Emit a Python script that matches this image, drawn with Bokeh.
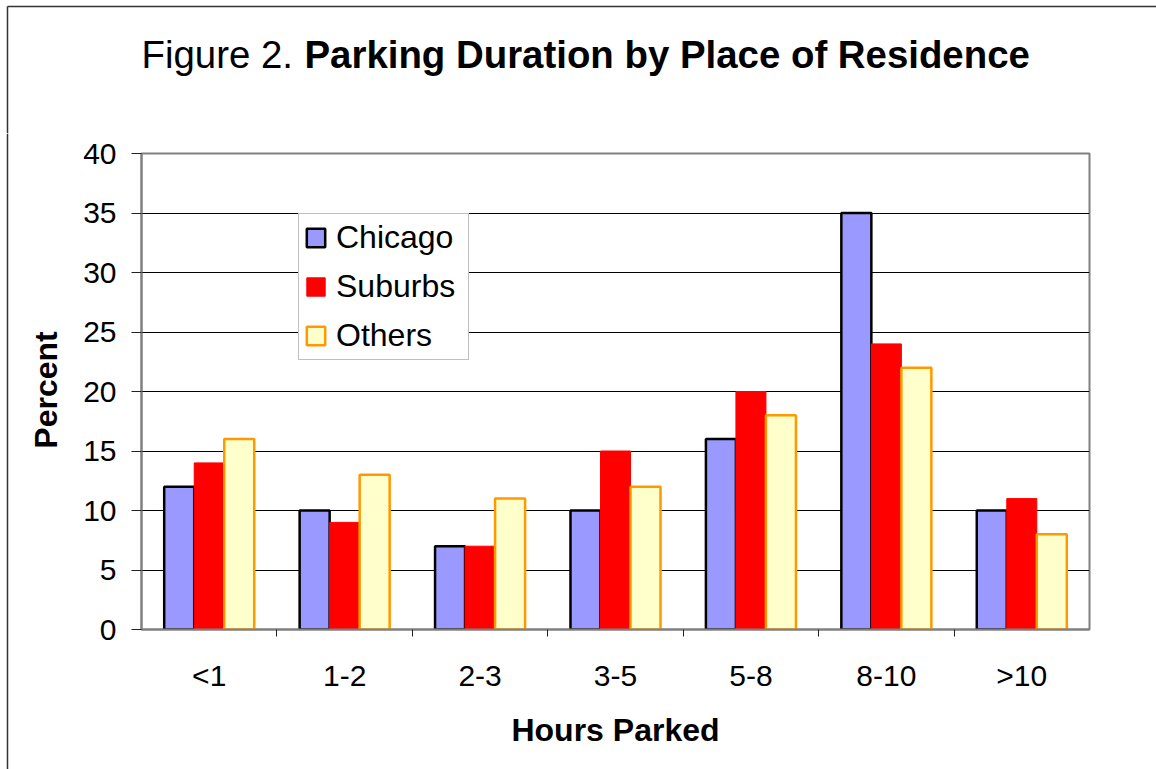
from bokeh.plotting import figure
from bokeh.layouts import column, row
from bokeh.models import (FactorRange, Range1d, CategoricalAxis, FixedTicker,
                          Legend, LegendItem, ColumnDataSource)
from bokeh.core.properties import value
from bokeh.transform import dodge
from bokeh.embed import file_html
from bokeh.resources import INLINE

categories = ["<1", "1-2", "2-3", "3-5", "5-8", "8-10", ">10"]
chicago = [12, 10, 7, 10, 16, 35, 10]
suburbs = [14, 9, 7, 15, 20, 24, 11]
others = [16, 13, 11, 12, 18, 22, 8]
series_names = ["Chicago", "Suburbs", "Others"]
y_ticks = [0, 5, 10, 15, 20, 25, 30, 35, 40]

FONT = "Liberation Sans"
BAR_W = 0.2216
BORDER = "#333333"

W, H = 1156, 769
TOP_H = 133
STRIP_W = 75
MAIN_H = H - TOP_H
MAIN_W = W - STRIP_W


def no_align(f):
    if "frame_align" in f.properties():
        f.frame_align = False


def blank(width, height):
    f = figure(width=width, height=height, x_range=Range1d(0, width), y_range=Range1d(0, height),
               output_backend="svg", toolbar_location=None, x_axis_location=None,
               y_axis_location=None, min_border=0)
    f.grid.visible = False
    f.outline_line_color = None
    f.background_fill_color = "white"
    f.border_fill_color = "white"
    no_align(f)
    return f


# ---- title strip ----
top = blank(W, TOP_H)
top.line(x=[7, 7], y=[0, TOP_H - 6], line_color=BORDER, line_width=1.5)
top.line(x=[7, W], y=[TOP_H - 6, TOP_H - 6], line_color=BORDER, line_width=1.5)
TITLE_MID = TOP_H - 53.6
top.text(x=[141], y=[TITLE_MID], text=["Figure 2."], text_font=value(FONT),
         text_font_size="38.4px", text_color="black", text_align="left", text_baseline="middle")
top.text(x=[304], y=[TITLE_MID], text=["Parking Duration by Place of Residence"],
         text_font=value(FONT), text_font_size="38.4px", text_font_style="bold",
         text_color="black", text_align="left", text_baseline="middle")

# ---- left strip (y title) ----
strip = blank(STRIP_W, MAIN_H)
strip.line(x=[7, 7], y=[0, MAIN_H], line_color=BORDER, line_width=1.5)
strip.text(x=[45.3], y=[MAIN_H - (389.5 - TOP_H)], text=["Percent"], angle=1.5707963,
           text_font=value(FONT), text_font_size="32px", text_font_style="bold",
           text_color="black", text_align="center", text_baseline="middle")

# ---- main chart ----
src = ColumnDataSource(dict(cat=categories, Chicago=chicago, Suburbs=suburbs, Others=others))

p = figure(width=MAIN_W, height=MAIN_H, x_range=FactorRange(*categories), y_range=Range1d(0, 40),
           output_backend="svg", toolbar_location=None, x_axis_location=None,
           min_border_left=141 - STRIP_W, min_border_right=67,
           min_border_top=153 - TOP_H, min_border_bottom=H - 629)
no_align(p)
p.background_fill_color = "white"
p.border_fill_color = "white"
p.outline_line_color = "#808080"
p.outline_line_width = 2

ya = p.yaxis[0]
ya.ticker = FixedTicker(ticks=y_ticks)
ya.major_tick_in = 0
ya.major_tick_out = 10
ya.major_tick_line_color = "#222222"
ya.minor_tick_line_color = None
ya.axis_line_color = "#808080"
ya.axis_line_width = 2
ya.major_label_text_font = FONT
ya.major_label_text_font_size = "30px"
ya.major_label_text_color = "black"
ya.major_label_standoff = 15

p.ygrid.grid_line_color = "black"
p.ygrid.grid_line_width = 1
p.xgrid.visible = False

# tick marks at the group boundaries: an auxiliary factor range whose factor
# centres fall on the group edges
edge_factors = ["e%d" % i for i in range(len(categories) + 1)]
p.extra_x_ranges = {"edges": FactorRange(factors=edge_factors, range_padding=-1.0 / len(edge_factors))}
tick_axis = CategoricalAxis(x_range_name="edges",
                            major_tick_in=0, major_tick_out=7, major_tick_line_color="#222222",
                            axis_line_color="#808080", axis_line_width=2,
                            major_label_text_font_size="1px", major_label_text_color=None,
                            major_label_standoff=0)
p.add_layout(tick_axis, "below")
cat_axis = CategoricalAxis(axis_line_color=None, major_tick_line_color=None,
                           major_label_text_font=FONT, major_label_text_font_size="30px",
                           major_label_text_color="black", major_label_standoff=16,
                           axis_label="Hours Parked", axis_label_text_font=FONT,
                           axis_label_text_font_size="32px", axis_label_text_font_style="bold",
                           axis_label_text_color="black", axis_label_standoff=17)
p.add_layout(cat_axis, "below")

r1 = p.vbar(x=dodge("cat", -BAR_W, range=p.x_range), top="Chicago", width=BAR_W, source=src,
            fill_color="#9999FF", line_color="black", line_width=2.5)
r2 = p.vbar(x=dodge("cat", 0, range=p.x_range), top="Suburbs", width=BAR_W, source=src,
            fill_color="#FF0000", line_color="#FF0000", line_width=1)
r3 = p.vbar(x=dodge("cat", BAR_W, range=p.x_range), top="Others", width=BAR_W, source=src,
            fill_color="#FFFFCC", line_color="#FF9900", line_width=2.5)

legend = Legend(items=[LegendItem(label=series_names[0], renderers=[r1]),
                       LegendItem(label=series_names[1], renderers=[r2]),
                       LegendItem(label=series_names[2], renderers=[r3])],
                location=(157, 269), orientation="vertical",
                border_line_color="#808080", border_line_width=1.5,
                background_fill_color="white", background_fill_alpha=1,
                label_text_font=FONT, label_text_font_size="32px", label_text_color="black",
                glyph_width=23, glyph_height=23, label_standoff=9,
                padding=5, spacing=12, margin=0, label_height=36, label_width=127)
p.add_layout(legend)

layout = column(top, row(strip, p, spacing=0), spacing=0)

open("out.html", "w").write(file_html(layout, INLINE))
